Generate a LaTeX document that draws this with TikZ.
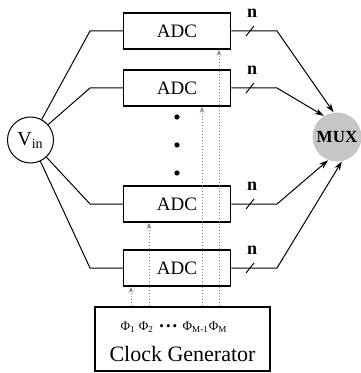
\documentclass[tikz,border=0pt]{standalone}
\usepackage{fontspec}
\setmainfont{Liberation Serif}
\usetikzlibrary{arrows.meta}
\begin{document}
\begin{tikzpicture}[x=0.5pt,y=-0.5pt,line width=0.5pt]
	\tikzstyle{every node}+=[inner sep=0pt]
	\tikzstyle{adc}=[draw,line width=0.75pt,minimum width=53.5pt,minimum height=18pt,font=\fontsize{9.5}{10}\selectfont]
	\tikzstyle{bus}=[-{Stealth[length=4.5pt,width=3pt]}]
	\tikzstyle{phase}=[densely dotted,gray,-{Stealth[length=3pt,width=2.2pt]}]
	\useasboundingbox (0,0) rectangle (360,373);
	\node[adc] (adc1) at (177,31) {ADC};
	\node[adc] (adc2) at (177,88) {ADC};
	\node[adc] (adc3) at (177,204) {ADC};
	\node[adc] (adc4) at (177,268) {ADC};
	\node[draw,circle,minimum size=23pt,font=\fontsize{10}{11}\selectfont] (vin) at (30.5,140) {V\textsubscript{in}};
	\node[circle,fill=gray!45,minimum size=24.5pt,font=\fontsize{8.5}{9}\selectfont\bfseries] (mux) at (337,137) {MUX};
	\node[draw,line width=0.8pt,minimum width=87.5pt,minimum height=32pt] (clk) at (182.5,339) {};
	\node[font=\fontsize{11}{12}\selectfont] (clkname) at (182.5,354) {Clock Generator};
	\node[font=\fontsize{6.5}{7}\selectfont] (phases) at (174,327) {Φ\textsubscript{1} Φ\textsubscript{2} \,\textbullet\,\textbullet\,\textbullet\, Φ\textsubscript{M-1}Φ\textsubscript{M}};
	% inputs and outputs
	\foreach \i/\y/\a in {1/31/98,2/88/122,3/204/249,4/268/281} {
		\draw (vin) -- (90,\y) -- (adc\i.west);
		\draw[bus] (adc\i.east) -- (277,\y) -- (mux.\a);
		\draw (246,\y+5) -- (254,\y-5);
		\node[font=\fontsize{9}{10}\selectfont\bfseries] (n\i) at (252,\y-18) {n};
	}
	% dots
	\foreach \y in {117,145,173}
		\fill (177,\y) circle (2.6);
	% clock phases
	\foreach \x/\i in {131/4,149/3,202/2,219/1}
		\draw[phase] (clk.north -| \x,0) -- (adc\i.south -| \x,0);
\end{tikzpicture}
\end{document}
